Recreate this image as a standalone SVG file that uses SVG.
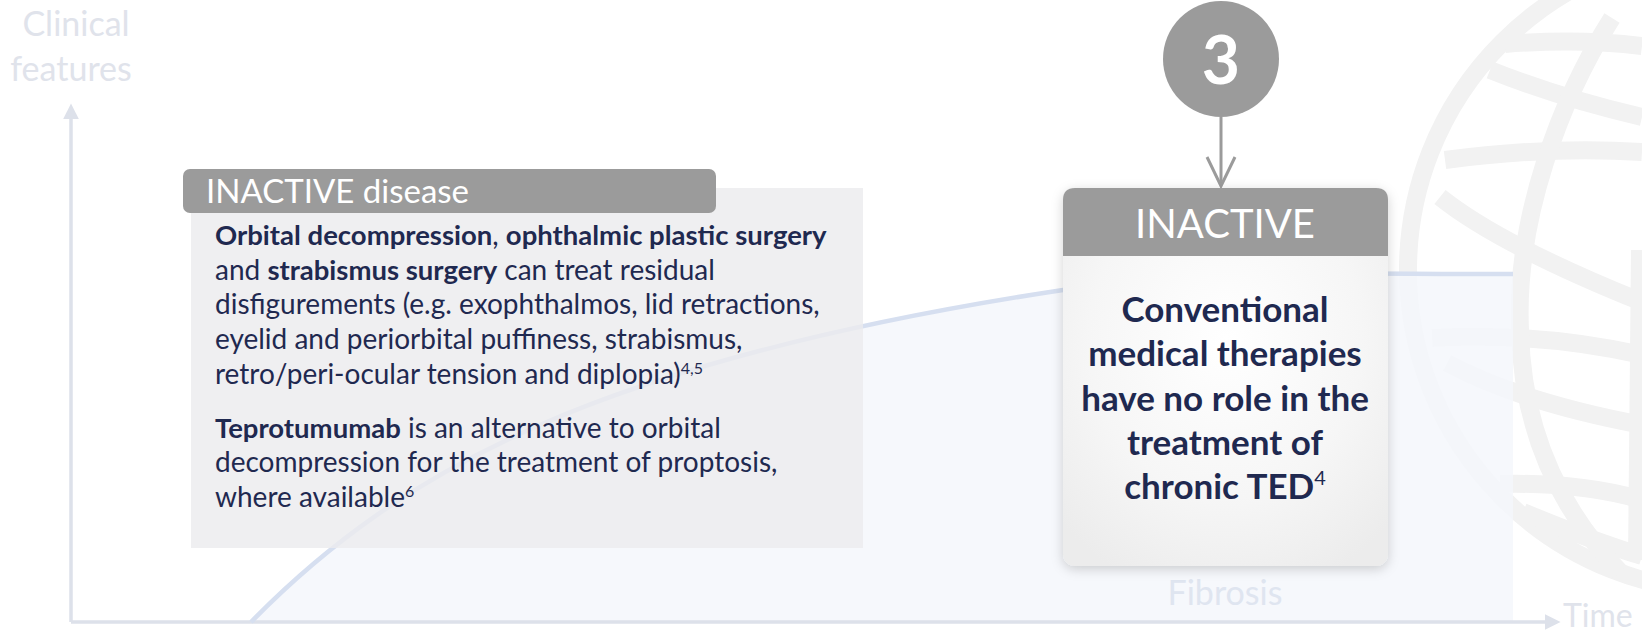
<svg xmlns="http://www.w3.org/2000/svg" width="1642" height="632" viewBox="0 0 1642 632">
<defs>
<style>
.axis{fill:none;stroke:#dde1ea;stroke-width:3.5}
.axlbl{font-family:Lato,"Liberation Sans",sans-serif;font-size:34px;fill:#e0e3eb}
.globe{fill:none;stroke:#f2f2f2;stroke-width:18}
.hdr{fill:#9b9b9b}
.hdrtxt{font-family:Lato,"Liberation Sans",sans-serif;fill:#ffffff}
.body{font-family:Lato,"Liberation Sans",sans-serif;font-size:28px;fill:#1f2950}
.b{font-weight:bold;font-size:27.5px}
.sup{font-size:16px}
.rbody{font-family:Lato,"Liberation Sans",sans-serif;font-size:35px;font-weight:bold;fill:#1f2950}
.conn{fill:none;stroke:#9b9b9b;stroke-width:3}
</style>
<marker id="axhead" viewBox="0 0 10 10" refX="2" refY="5" markerWidth="4.5" markerHeight="4.5" orient="auto">
<path d="M0,0 L10,5 L0,10 Z" fill="#dde1ea"/>
</marker>
<radialGradient id="rg" cx="0.5" cy="0.4" r="0.7">
<stop offset="0" stop-color="#ffffff"/>
<stop offset="0.6" stop-color="#f6f6f6"/>
<stop offset="1" stop-color="#ececec"/>
</radialGradient>
<filter id="sh" x="-20%" y="-20%" width="140%" height="140%">
<feDropShadow dx="0" dy="3" stdDeviation="6" flood-color="#000" flood-opacity="0.18"/>
</filter>
</defs>

<g id="globe">
<circle class="globe" cx="1730" cy="270" r="322" stroke-width="32"/>
<path class="globe" d="M1505,44 Q1580,38 1642,46"/>
<path class="globe" d="M1490,70 Q1560,98 1642,117"/>
<path class="globe" d="M1445,160 Q1550,146 1642,152"/>
<path class="globe" d="M1440,197 Q1500,245 1642,302"/>
<path class="globe" d="M1432,338 Q1540,332 1642,355"/>
<path class="globe" d="M1447,363 Q1520,402 1642,425"/>
<path class="globe" d="M1500,484 Q1580,482 1642,500"/>
<path class="globe" d="M1523,512 Q1590,540 1642,556"/>
<path class="globe" d="M1612,18 C1560,100 1515,220 1520,330 C1522,430 1560,510 1620,572"/>
<path class="globe" d="M1640,250 L1637,560"/>
</g>

<g id="area">
<path d="M251,622 C400,470 600,360 1063,290 C1201,269 1300,274 1513,274 L1513,622 Z" fill="#f5f7fb" opacity="0.85"/>
</g>

<g id="axes">
<line class="axis" x1="71" y1="622" x2="71" y2="116" marker-end="url(#axhead)"/>
<line class="axis" x1="71" y1="622" x2="1548" y2="622" marker-end="url(#axhead)"/>
<text class="axlbl" x="76" y="36" text-anchor="middle">Clinical</text>
<text class="axlbl" x="71" y="81" text-anchor="middle">features</text>
<text class="axlbl" x="1563" y="627" style="font-size:32px">Time</text>
<text class="axlbl" x="1225" y="605" text-anchor="middle" style="fill:#dfe5f0">Fibrosis</text>
</g>

<g id="curve">
<path d="M251,622 C400,470 600,360 1063,290 C1201,269 1300,274 1513,274" fill="none" stroke="#d6dff0" stroke-width="4.5"/>
</g>

<g id="inactive-disease">
<rect x="191" y="188" width="672" height="360" fill="#ececee" opacity="0.82"/>
<rect class="hdr" x="183" y="169" width="533" height="44" rx="7"/>
<text class="hdrtxt" x="206" y="203" font-size="33">INACTIVE disease</text>
<text class="body" x="215" y="245"><tspan class="b">Orbital decompression</tspan>, <tspan class="b">ophthalmic plastic surgery</tspan></text>
<text class="body" x="215" y="280">and <tspan class="b">strabismus surgery</tspan> can treat residual</text>
<text class="body" x="215" y="314">disfigurements (e.g. exophthalmos, lid retractions,</text>
<text class="body" x="215" y="349">eyelid and periorbital puffiness, strabismus,</text>
<text class="body" x="215" y="384">retro/peri-ocular tension and diplopia)<tspan class="sup" dy="-10">4,5</tspan></text>
<text class="body" x="215" y="438"><tspan class="b">Teprotumumab</tspan> is an alternative to orbital</text>
<text class="body" x="215" y="472">decompression for the treatment of proptosis,</text>
<text class="body" x="215" y="507">where available<tspan class="sup" dy="-10">6</tspan></text>
</g>

<g id="step3">
<circle cx="1221" cy="59" r="58" fill="#9b9b9b"/>
<text class="hdrtxt" x="1221" y="84" font-size="66" font-weight="bold" text-anchor="middle">3</text>
</g>

<g id="connectors">
<line class="conn" x1="1221" y1="117" x2="1221" y2="184"/>
<polyline class="conn" points="1207,157 1221,186 1235,157"/>
</g>

<g id="inactive-box">
<g filter="url(#sh)">
<rect x="1063" y="188" width="325" height="378" rx="12" fill="url(#rg)"/>
</g>
<path class="hdr" d="M1063,256 L1063,200 Q1063,188 1075,188 L1376,188 Q1388,188 1388,200 L1388,256 Z"/>
<text class="hdrtxt" x="1225" y="238" font-size="40" text-anchor="middle">INACTIVE</text>
<text class="rbody" x="1225" y="322" text-anchor="middle">Conventional</text>
<text class="rbody" x="1225" y="366" text-anchor="middle">medical therapies</text>
<text class="rbody" x="1225" y="411" text-anchor="middle">have no role in the</text>
<text class="rbody" x="1225" y="455" text-anchor="middle">treatment of</text>
<text class="rbody" x="1225" y="499" text-anchor="middle">chronic TED<tspan font-weight="normal" font-size="20" dy="-14">4</tspan></text>
</g>
</svg>
